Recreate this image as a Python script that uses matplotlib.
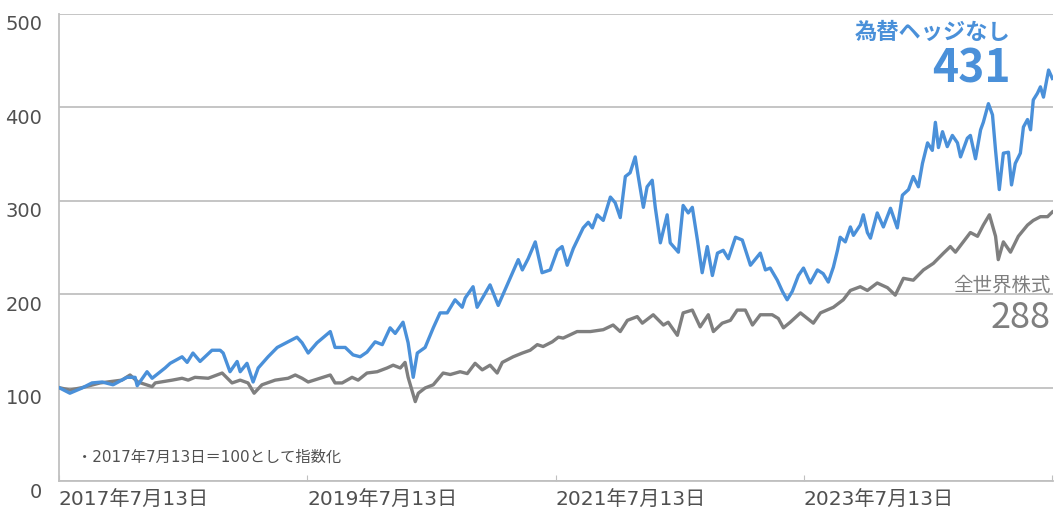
import numpy as np
import pandas as pd
import matplotlib
matplotlib.use('Agg')
import matplotlib.pyplot as plt
import matplotlib.transforms as mtransforms

# digits from DejaVu (wide, like the original), kana/kanji fall back to Noto CJK
plt.rcParams['font.family'] = ['DejaVu Sans', 'Noto Sans CJK JP']

# 為替ヘッジなし
blue_dates = [
    '2017-07-13', '2017-08-14', '2017-09-19', '2017-10-18', '2017-11-17', '2017-12-19',
    '2018-01-14', '2018-01-29', '2018-02-22', '2018-02-28', '2018-03-29', '2018-04-13',
    '2018-05-21', '2018-06-05', '2018-07-10', '2018-07-25', '2018-08-11', '2018-09-01',
    '2018-10-06', '2018-10-30', '2018-11-08', '2018-11-19', '2018-11-28', '2018-12-19',
    '2018-12-28', '2019-01-17', '2019-02-04', '2019-02-19', '2019-03-20', '2019-04-16',
    '2019-05-18', '2019-06-13', '2019-06-28', '2019-07-16', '2019-08-11', '2019-09-19',
    '2019-10-03', '2019-11-02', '2019-11-25', '2019-12-16', '2020-01-05', '2020-01-29',
    '2020-02-19', '2020-03-13', '2020-03-28', '2020-04-20', '2020-05-05', '2020-05-20',
    '2020-06-01', '2020-06-24', '2020-07-18', '2020-08-07', '2020-08-28', '2020-09-20',
    '2020-10-11', '2020-10-20', '2020-11-12', '2020-11-24', '2021-01-01', '2021-01-25',
    '2021-03-01', '2021-03-25', '2021-04-06', '2021-04-23', '2021-05-14', '2021-06-03',
    '2021-06-27', '2021-07-18', '2021-08-01', '2021-08-16', '2021-09-03', '2021-10-02',
    '2021-10-17', '2021-10-29', '2021-11-12', '2021-11-30', '2021-12-21', '2022-01-04',
    '2022-01-19', '2022-02-03', '2022-02-17', '2022-03-04', '2022-03-13', '2022-03-28',
    '2022-04-08', '2022-04-23', '2022-05-02', '2022-05-17', '2022-06-06', '2022-06-15',
    '2022-07-09', '2022-07-23', '2022-08-07', '2022-08-19', '2022-09-03', '2022-09-17',
    '2022-10-02', '2022-10-17', '2022-11-01', '2022-11-18', '2022-12-03', '2022-12-24',
    '2023-01-13', '2023-02-06', '2023-03-07', '2023-03-22', '2023-04-05', '2023-04-26',
    '2023-05-11', '2023-05-25', '2023-06-09', '2023-06-27', '2023-07-12', '2023-08-01',
    '2023-08-22', '2023-09-08', '2023-09-23', '2023-10-08', '2023-10-20', '2023-10-28',
    '2023-11-12', '2023-11-27', '2023-12-06', '2023-12-26', '2024-01-04', '2024-01-16',
    '2024-01-25', '2024-02-14', '2024-03-03', '2024-03-24', '2024-04-13', '2024-04-28',
    '2024-05-16', '2024-05-30', '2024-06-14', '2024-06-26', '2024-07-11', '2024-07-25',
    '2024-08-03', '2024-08-12', '2024-08-24', '2024-09-07', '2024-09-22', '2024-10-07',
    '2024-10-16', '2024-11-05', '2024-11-14', '2024-11-29', '2024-12-14', '2024-12-22',
    '2025-01-06', '2025-01-18', '2025-01-27', '2025-02-07', '2025-02-19', '2025-03-06',
    '2025-03-15', '2025-03-26', '2025-04-10', '2025-04-19', '2025-05-01', '2025-05-10',
    '2025-05-18', '2025-05-30', '2025-06-08', '2025-06-17', '2025-07-02', '2025-07-13',
]
blue_vals = [
    100, 94, 99.6, 105, 106, 103,
    108, 111, 111, 102, 117, 110,
    121, 126, 133, 127, 137, 128,
    140, 140, 137, 126, 117, 128,
    117, 126, 106, 121, 133, 143,
    149, 154, 148, 137, 148, 160,
    143, 143, 135, 133, 138, 149,
    146, 164, 158, 170, 148, 111,
    137, 143, 164, 180, 180, 194,
    186, 196, 208, 186, 210, 188,
    217, 237, 226, 238, 256, 223,
    226, 247, 251, 231, 249, 271,
    277, 271, 285, 279, 304, 298,
    282, 326, 330, 347, 326, 293,
    315, 322, 293, 255, 285, 255,
    245, 295, 287, 293, 258, 223,
    251, 220, 244, 247, 238, 261,
    258, 231, 244, 226, 228, 215,
    203, 194, 203, 220, 228, 212,
    226, 222, 213, 229, 247, 261,
    256, 272, 263, 274, 285, 266,
    260, 287, 272, 292, 271, 306,
    312, 326, 315, 340, 362, 354,
    384, 357, 374, 358, 370, 362,
    347, 367, 370, 345, 376, 384,
    404, 392, 354, 312, 351, 352,
    317, 340, 351, 379, 387, 376,
    408, 415, 422, 411, 440, 431,
]

# 全世界株式
gray_dates = [
    '2017-07-13', '2017-08-14', '2017-09-19', '2017-11-11', '2018-01-14', '2018-02-07',
    '2018-03-02', '2018-04-13', '2018-04-22', '2018-06-11', '2018-07-10', '2018-07-28',
    '2018-08-17', '2018-09-25', '2018-11-05', '2018-12-04', '2018-12-28', '2019-01-20',
    '2019-02-07', '2019-03-02', '2019-04-10', '2019-05-18', '2019-06-08', '2019-06-28',
    '2019-07-16', '2019-09-19', '2019-10-03', '2019-10-24', '2019-11-22', '2019-12-10',
    '2020-01-05', '2020-02-04', '2020-03-04', '2020-03-22', '2020-04-12', '2020-04-26',
    '2020-05-05', '2020-05-26', '2020-06-04', '2020-06-24', '2020-07-18', '2020-08-16',
    '2020-09-06', '2020-10-05', '2020-10-26', '2020-11-18', '2020-12-09', '2021-01-01',
    '2021-01-22', '2021-02-06', '2021-03-10', '2021-04-06', '2021-04-29', '2021-05-20',
    '2021-06-06', '2021-07-03', '2021-07-21', '2021-08-04', '2021-09-14', '2021-10-23',
    '2021-11-30', '2021-12-29', '2022-01-19', '2022-02-09', '2022-03-10', '2022-03-25',
    '2022-04-26', '2022-05-26', '2022-06-09', '2022-07-06', '2022-07-23', '2022-08-19',
    '2022-09-11', '2022-10-05', '2022-10-20', '2022-11-15', '2022-12-09', '2022-12-29',
    '2023-01-22', '2023-02-12', '2023-03-07', '2023-04-11', '2023-04-29', '2023-05-14',
    '2023-06-03', '2023-07-03', '2023-08-10', '2023-08-31', '2023-10-08', '2023-11-06',
    '2023-11-27', '2023-12-26', '2024-01-16', '2024-02-14', '2024-03-15', '2024-04-07',
    '2024-05-01', '2024-05-30', '2024-06-29', '2024-07-28', '2024-08-27', '2024-09-16',
    '2024-10-01', '2024-10-24', '2024-11-14', '2024-12-05', '2024-12-22', '2025-01-09',
    '2025-01-27', '2025-02-04', '2025-02-19', '2025-03-12', '2025-04-04', '2025-05-01',
    '2025-05-18', '2025-06-08', '2025-06-29', '2025-07-13',
]
gray_vals = [
    100, 97.4, 100, 105, 108, 113.5,
    106, 101, 105, 108, 110, 108,
    111, 110, 115.6, 105, 108, 105,
    94, 103, 108, 110, 113.5, 110,
    106, 113.5, 105, 105, 111, 108,
    115.6, 117, 121, 124, 121, 127,
    111, 85, 94, 99.6, 103, 115.6,
    114, 117, 115, 126, 119, 124,
    115.6, 127, 133, 137, 140, 146,
    144, 149, 154, 153, 160, 160,
    162, 167, 160, 172, 176, 169,
    178, 167, 170, 156, 180, 183,
    165, 178, 160, 169, 172, 183,
    183, 167, 178, 178, 174, 164,
    170, 180, 169, 180, 186, 194,
    204, 208, 204, 212, 207, 199,
    217, 215, 226, 233, 244, 251,
    245, 256, 266, 262, 274, 285,
    262, 237, 256, 245, 262, 274,
    279, 283, 283, 288,
]

tick_dates = ['2017-07-13', '2019-07-13', '2021-07-13', '2023-07-13', '2025-07-13']
tick_labels = ['2017年7月13日', '2019年7月13日', '2021年7月13日', '2023年7月13日', '']

blue = '#4a90d9'
gray = '#7f7f7f'
grid_col = '#c0c0c0'
jp = ['Noto Sans CJK JP', 'DejaVu Sans']

fig = plt.figure(figsize=(10.58, 5.14), dpi=100)
ax = fig.add_axes([59 / 1058, 33 / 514, 994 / 1058, 467 / 514])

ax.plot(pd.to_datetime(gray_dates), gray_vals, color=gray, lw=2.4, zorder=3)
ax.plot(pd.to_datetime(blue_dates), blue_vals, color=blue, lw=2.4, zorder=4)

ax.set_ylim(0, 500)
ax.set_xlim(pd.Timestamp('2017-07-13'), pd.Timestamp('2025-07-15'))
ax.set_yticks(np.arange(0, 501, 100))
ax.yaxis.grid(True, color=grid_col, lw=1.3)
ax.set_axisbelow(True)

for s in ['top', 'right']:
    ax.spines[s].set_visible(False)
for s in ['left', 'bottom']:
    ax.spines[s].set_color(grid_col)
    ax.spines[s].set_linewidth(1.3)

ax.tick_params(axis='y', length=0, pad=12, labelsize=14, labelcolor='#505050')
ax.set_xticks(pd.to_datetime(tick_dates))
ax.set_xticklabels(tick_labels, ha='left')
ax.tick_params(axis='x', direction='in', length=4, color=grid_col, pad=7,
               labelsize=14.5, labelcolor='#505050')

# y labels sit a little below their gridlines in the original
offset = mtransforms.ScaledTranslation(0, -9 / 100, fig.dpi_scale_trans)
for lab in ax.get_yticklabels():
    lab.set_transform(lab.get_transform() + offset)

ax.text(0.957, 0.961, '為替ヘッジなし', transform=ax.transAxes, ha='right', va='center',
        fontsize=16, color=blue, fontweight='bold', family=jp)
ax.text(0.957, 0.882, '431', transform=ax.transAxes, ha='right', va='center',
        fontsize=32, color=blue, fontweight='bold', family=jp)
ax.text(0.998, 0.42, '全世界株式', transform=ax.transAxes, ha='right', va='center',
        fontsize=14, color=gray, family=jp)
ax.text(0.998, 0.35, '288', transform=ax.transAxes, ha='right', va='center',
        fontsize=26, color=gray, family=jp)
ax.text(0.018, 0.051, '・2017年7月13日＝100として指数化', transform=ax.transAxes,
        ha='left', va='center', fontsize=11, color='#505050')

plt.savefig('out.png', dpi=100)
plt.close()
